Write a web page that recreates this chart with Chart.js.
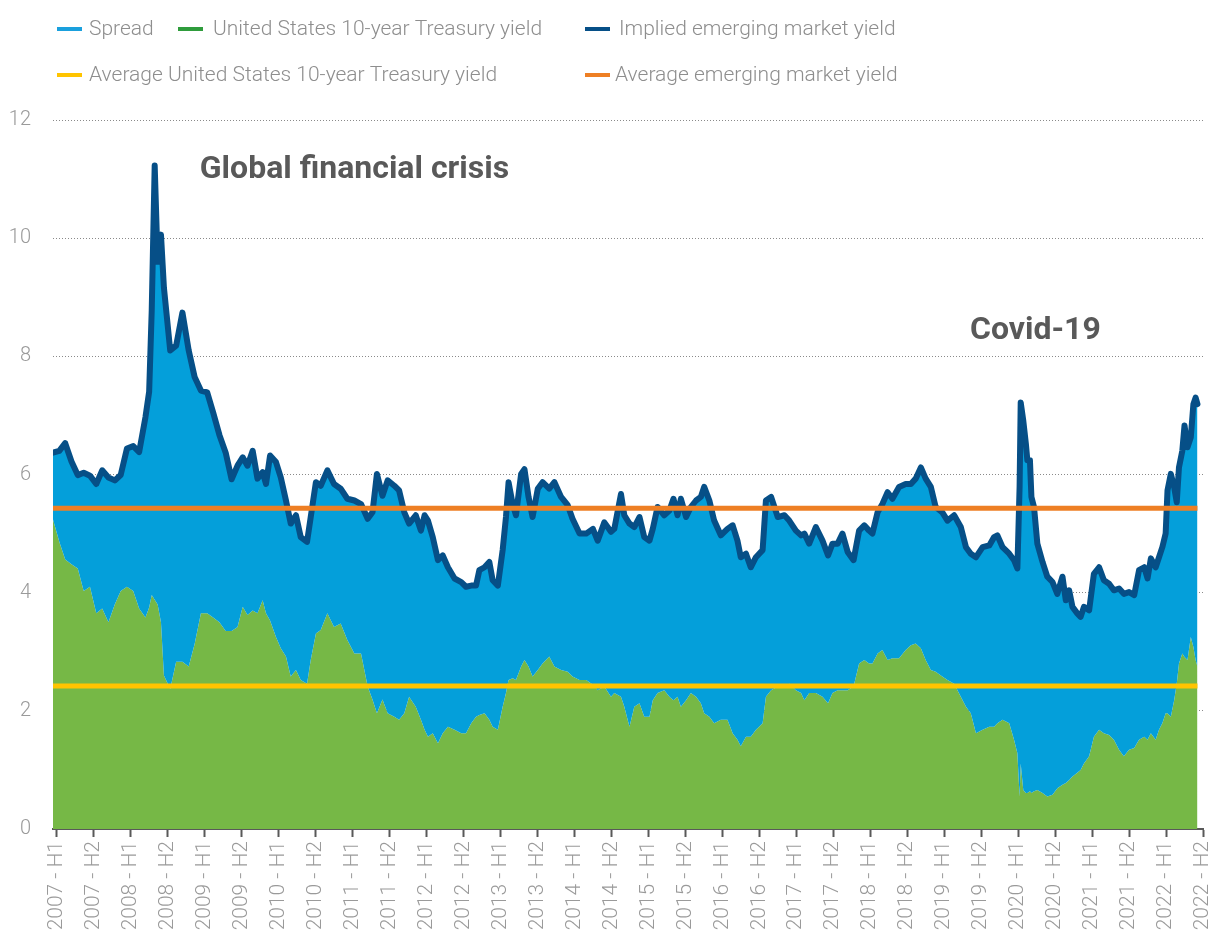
<!DOCTYPE html>
<html>
<head>
<meta charset="utf-8">
<title>Implied emerging market yield</title>
<script src="https://cdn.jsdelivr.net/npm/chart.js@4.4.1/dist/chart.umd.min.js"></script>
<style>
  html, body { margin: 0; padding: 0; background: #fff; }
  #wrap { width: 1211px; height: 938px; position: relative; }
</style>
</head>
<body>
<div id="wrap"><canvas id="chart"></canvas></div>
<script>
// Half-year tick labels
const halfYears = [
  '2007 - H1', '2007 - H2', '2008 - H1', '2008 - H2', '2009 - H1', '2009 - H2',
  '2010 - H1', '2010 - H2', '2011 - H1', '2011 - H2', '2012 - H1', '2012 - H2',
  '2013 - H1', '2013 - H2', '2014 - H1', '2014 - H2', '2015 - H1', '2015 - H2',
  '2016 - H1', '2016 - H2', '2017 - H1', '2017 - H2', '2018 - H1', '2018 - H2',
  '2019 - H1', '2019 - H2', '2020 - H1', '2020 - H2', '2021 - H1', '2021 - H2',
  '2022 - H1', '2022 - H2'
];

// Position of each observation, in half-years from 2007 - H1
const period = [
  -0.1, 0.07, 0.23, 0.4, 0.57, 0.73, 0.9, 1.07, 1.23, 1.4, 1.57, 1.73, 1.9, 2.07, 2.23, 2.4, 2.5, 2.57, 2.65, 2.73, 2.82, 2.9, 3.07, 3.23, 3.4, 3.57, 3.73, 3.9, 4.07, 4.23, 4.4, 4.57, 4.73,
  4.89, 5.03, 5.16, 5.3, 5.43, 5.57, 5.66, 5.77, 5.93, 6.06, 6.2, 6.33, 6.47, 6.6, 6.77, 6.87, 7.01, 7.14, 7.32, 7.5, 7.68, 7.86, 8.05, 8.23, 8.41, 8.54, 8.66, 8.81, 8.95, 9.13, 9.26, 9.4, 9.53, 9.71, 9.85,
  9.95, 10.04, 10.17, 10.31, 10.44, 10.58, 10.76, 10.94, 11.07, 11.21, 11.34, 11.43, 11.57, 11.7, 11.79, 11.93, 12.06, 12.15, 12.22, 12.33, 12.42, 12.56, 12.65, 12.76, 12.87, 13.01, 13.14, 13.32, 13.46, 13.64, 13.82, 13.95, 14.14, 14.32, 14.5, 14.63, 14.81, 14.99,
  15.08, 15.26, 15.35, 15.49, 15.62, 15.76, 15.89, 16.03, 16.12, 16.25, 16.43, 16.57, 16.68, 16.79, 16.88, 17.02, 17.15, 17.29, 17.42, 17.51, 17.65, 17.78, 17.96, 18.14, 18.28, 18.41, 18.5, 18.64, 18.77, 18.91, 19.09, 19.18, 19.32, 19.5, 19.68, 19.81, 19.99, 20.13,
  20.22, 20.35, 20.53, 20.71, 20.86, 20.98, 21.12, 21.25, 21.39, 21.55, 21.7, 21.84, 21.97, 22.06, 22.2, 22.33, 22.47, 22.6, 22.78, 22.96, 23.1, 23.23, 23.37, 23.5, 23.64, 23.77, 23.95, 24.09, 24.27, 24.45, 24.59, 24.72, 24.86, 25.04, 25.22,
  25.35, 25.44, 25.58, 25.76, 25.89, 25.98, 26.04, 26.07, 26.14, 26.21, 26.25, 26.32, 26.36, 26.43, 26.52, 26.66, 26.79, 26.93, 27.06, 27.2, 27.29, 27.38, 27.47, 27.6, 27.69, 27.78, 27.92, 28.05, 28.19, 28.32, 28.46, 28.59, 28.73, 28.86,
  29.0, 29.14, 29.27, 29.41, 29.5, 29.59, 29.72, 29.81, 29.9, 29.99, 30.04, 30.13, 30.22, 30.29, 30.35, 30.44, 30.5, 30.58, 30.67, 30.74, 30.8, 30.85
];

// Implied emerging market yield (top of the spread band)
const impliedYield = [
  6.37, 6.40, 6.53, 6.22, 5.99, 6.03, 5.98, 5.84, 6.07, 5.95, 5.90, 5.99, 6.44, 6.48, 6.38, 6.97, 7.40, 8.78, 11.23, 9.60, 10.06, 9.16, 8.10, 8.18, 8.74, 8.10, 7.65, 7.42, 7.39, 7.05, 6.67, 6.37, 5.92,
  6.15, 6.29, 6.15, 6.40, 5.93, 6.04, 5.84, 6.32, 6.21, 5.95, 5.56, 5.17, 5.31, 4.94, 4.86, 5.28, 5.87, 5.81, 6.07, 5.84, 5.76, 5.59, 5.56, 5.50, 5.25, 5.36, 6.01, 5.64, 5.90, 5.81, 5.73, 5.36, 5.17, 5.31, 5.05,
  5.31, 5.22, 4.94, 4.55, 4.63, 4.43, 4.24, 4.18, 4.10, 4.12, 4.12, 4.38, 4.43, 4.52, 4.21, 4.12, 4.72, 5.28, 5.87, 5.50, 5.31, 6.01, 6.09, 5.62, 5.28, 5.76, 5.87, 5.76, 5.87, 5.62, 5.48, 5.25, 5.00, 5.00, 5.08, 4.88, 5.19, 5.03,
  5.08, 5.67, 5.31, 5.17, 5.11, 5.28, 4.94, 4.88, 5.08, 5.45, 5.31, 5.39, 5.59, 5.31, 5.59, 5.28, 5.45, 5.56, 5.62, 5.79, 5.56, 5.22, 4.97, 5.08, 5.14, 4.88, 4.60, 4.66, 4.43, 4.60, 4.72, 5.56, 5.62, 5.28, 5.31, 5.22, 5.05, 4.97,
  5.00, 4.83, 5.11, 4.88, 4.63, 4.83, 4.83, 5.00, 4.69, 4.55, 5.05, 5.14, 5.05, 5.00, 5.36, 5.50, 5.70, 5.59, 5.79, 5.84, 5.84, 5.93, 6.12, 5.93, 5.79, 5.45, 5.36, 5.22, 5.31, 5.11, 4.77, 4.66, 4.60, 4.77, 4.80,
  4.94, 4.97, 4.77, 4.66, 4.55, 4.41, 5.79, 7.22, 6.91, 6.52, 6.24, 6.24, 5.62, 5.45, 4.83, 4.52, 4.27, 4.18, 3.98, 4.27, 3.87, 4.04, 3.76, 3.65, 3.59, 3.76, 3.70, 4.32, 4.43, 4.21, 4.15, 4.04, 4.07, 3.98,
  4.01, 3.96, 4.38, 4.43, 4.24, 4.58, 4.43, 4.60, 4.77, 5.00, 5.73, 6.01, 5.79, 5.53, 6.12, 6.40, 6.83, 6.46, 6.63, 7.19, 7.30, 7.19
];

// United States 10-year Treasury yield
const treasuryYield = [
  5.24, 4.86, 4.56, 4.48, 4.41, 4.03, 4.10, 3.65, 3.73, 3.50, 3.80, 4.03, 4.10, 4.03, 3.73, 3.58, 3.75, 3.96, 3.88, 3.80, 3.50, 2.60, 2.37, 2.83, 2.83, 2.75, 3.13, 3.65, 3.65, 3.58, 3.50, 3.35, 3.35,
  3.42, 3.76, 3.62, 3.70, 3.65, 3.87, 3.65, 3.53, 3.25, 3.06, 2.92, 2.58, 2.69, 2.52, 2.46, 2.86, 3.31, 3.37, 3.65, 3.42, 3.48, 3.20, 2.97, 2.97, 2.41, 2.19, 1.96, 2.19, 1.96, 1.90, 1.85, 1.96, 2.24, 2.07, 1.85,
  1.68, 1.56, 1.62, 1.45, 1.62, 1.73, 1.68, 1.62, 1.62, 1.79, 1.90, 1.93, 1.96, 1.85, 1.73, 1.68, 2.07, 2.30, 2.52, 2.55, 2.52, 2.75, 2.86, 2.75, 2.58, 2.69, 2.80, 2.92, 2.75, 2.69, 2.66, 2.58, 2.52, 2.52, 2.44, 2.35, 2.41, 2.24,
  2.30, 2.24, 2.07, 1.73, 2.07, 2.13, 1.90, 1.90, 2.18, 2.30, 2.35, 2.24, 2.18, 2.24, 2.07, 2.18, 2.30, 2.24, 2.13, 1.96, 1.90, 1.79, 1.85, 1.85, 1.62, 1.51, 1.40, 1.56, 1.56, 1.68, 1.79, 2.24, 2.35, 2.41, 2.41, 2.46, 2.35, 2.30,
  2.18, 2.30, 2.30, 2.24, 2.13, 2.30, 2.35, 2.35, 2.35, 2.41, 2.80, 2.86, 2.80, 2.80, 2.97, 3.03, 2.86, 2.89, 2.89, 3.03, 3.11, 3.14, 3.06, 2.86, 2.69, 2.66, 2.58, 2.52, 2.46, 2.24, 2.07, 1.96, 1.62, 1.68, 1.73,
  1.73, 1.79, 1.85, 1.79, 1.51, 1.28, 0.55, 1.11, 0.66, 0.61, 0.61, 0.64, 0.61, 0.64, 0.66, 0.61, 0.55, 0.58, 0.69, 0.75, 0.78, 0.83, 0.89, 0.95, 1.00, 1.11, 1.23, 1.56, 1.68, 1.62, 1.59, 1.51, 1.34, 1.23,
  1.34, 1.37, 1.51, 1.56, 1.51, 1.62, 1.51, 1.68, 1.79, 1.96, 1.96, 1.90, 2.18, 2.46, 2.80, 2.97, 2.91, 2.86, 3.25, 3.08, 2.86, 2.75
];

// Period averages
const avgImpliedYield = 5.43;
const avgTreasuryYield = 2.42;

// Text notes on the plot: [label, x (half-years), y (yield)]
const notes = [
  ['Global financial crisis', 3.87, 11.15],
  ['Covid-19', 24.7, 8.43]
];

const toPoints = values => values.map((v, i) => ({ x: period[i], y: v }));
const firstX = period[0];
const lastX = period[period.length - 1];

const FONT = "Roboto, 'Open Sans', sans-serif";

// Legend laid out in two rows with a fixed second column, drawn on the canvas
const gridLegend = {
  id: 'gridLegend',
  afterDraw(chart, args, opts) {
    const ctx = chart.ctx;
    ctx.save();
    ctx.font = `300 21px ${FONT}`;
    ctx.textBaseline = 'middle';
    ctx.lineCap = 'butt';
    opts.items.forEach(item => {
      const ds = chart.data.datasets.find(d => d.label === item.label);
      ctx.strokeStyle = ds.legendColor || ds.borderColor;
      ctx.lineWidth = 4;
      ctx.beginPath();
      ctx.moveTo(item.x, item.y);
      ctx.lineTo(item.x + 25, item.y);
      ctx.stroke();
      ctx.fillStyle = '#8e8e8e';
      ctx.fillText(item.label, item.x + item.gap, item.y + 1);
    });
    ctx.restore();
  }
};

// Bold annotations placed in data coordinates
const notesPlugin = {
  id: 'notes',
  afterDatasetsDraw(chart) {
    const { ctx, scales: { x, y } } = chart;
    ctx.save();
    ctx.font = `bold 32px ${FONT}`;
    ctx.fillStyle = '#595959';
    ctx.textBaseline = 'middle';
    notes.forEach(([text, nx, ny]) => {
      ctx.fillText(text, x.getPixelForValue(nx), y.getPixelForValue(ny));
    });
    ctx.restore();
  }
};

// Drawn top-first: the first dataset ends up on top
const datasets = [
  {
    label: 'Average emerging market yield',
    data: [{ x: firstX, y: avgImpliedYield }, { x: lastX, y: avgImpliedYield }],
    borderColor: '#ee7f24',
    borderWidth: 5,
    pointRadius: 0,
    fill: false
  },
  {
    label: 'Average United States 10-year Treasury yield',
    data: [{ x: firstX, y: avgTreasuryYield }, { x: lastX, y: avgTreasuryYield }],
    borderColor: '#ffc400',
    borderWidth: 5,
    pointRadius: 0,
    fill: false
  },
  {
    label: 'Implied emerging market yield',
    data: toPoints(impliedYield),
    borderColor: '#064f87',
    borderWidth: 6,
    borderJoinStyle: 'round',
    borderCapStyle: 'round',
    pointRadius: 0,
    tension: 0,
    fill: false
  },
  {
    label: 'Spread',
    data: toPoints(impliedYield),
    borderColor: 'rgba(0,0,0,0)',
    legendColor: '#1aa0dd',
    borderWidth: 0,
    backgroundColor: '#049fda',
    pointRadius: 0,
    tension: 0,
    fill: '+1'
  },
  {
    label: 'United States 10-year Treasury yield',
    data: toPoints(treasuryYield),
    borderColor: 'rgba(0,0,0,0)',
    legendColor: '#2f9c3c',
    borderWidth: 0,
    backgroundColor: '#76b846',
    pointRadius: 0,
    tension: 0,
    fill: 'origin'
  }
];

new Chart(document.getElementById('chart'), {
  type: 'line',
  data: { datasets },
  plugins: [gridLegend, notesPlugin],
  options: {
    responsive: true,
    maintainAspectRatio: false,
    animation: false,
    layout: { padding: { top: 120, right: 8, bottom: 0, left: 0 } },
    scales: {
      x: {
        type: 'linear',
        min: -0.1,
        max: 31,
        border: { display: true, color: '#595959', width: 2 },
        grid: {
          drawOnChartArea: false,
          drawTicks: true,
          tickLength: 8,
          tickColor: '#595959',
          tickWidth: 2
        },
        ticks: {
          stepSize: 1,
          includeBounds: false,
          autoSkip: false,
          maxRotation: 90,
          minRotation: 90,
          padding: 4,
          color: '#9a9a9a',
          font: { family: FONT, size: 21, weight: 300 },
          callback: v => (Number.isInteger(v) ? halfYears[v] : '')
        },
        afterFit: scale => {
          scale.height = 109;
          scale.paddingLeft = 0;
          scale.paddingRight = 0;
        }
      },
      y: {
        min: 0,
        max: 12,
        border: { display: false, dash: [1, 2] },
        grid: {
          drawTicks: false,
          color: ctx => (ctx.tick && ctx.tick.value === 0 ? 'rgba(0,0,0,0)' : '#8a8a8a'),
          lineWidth: 1
        },
        ticks: {
          stepSize: 2,
          padding: 22,
          color: '#9a9a9a',
          font: { family: FONT, size: 20, weight: 300 }
        },
        afterFit: scale => {
          scale.width = 53;
          scale.paddingTop = 0;
          scale.paddingBottom = 0;
        }
      }
    },
    plugins: {
      legend: { display: false },
      tooltip: { enabled: false },
      gridLegend: {
        items: [
          { label: 'Spread', x: 57, y: 29, gap: 32 },
          { label: 'United States 10-year Treasury yield', x: 178, y: 29, gap: 35 },
          { label: 'Implied emerging market yield', x: 585, y: 29, gap: 34 },
          { label: 'Average United States 10-year Treasury yield', x: 57, y: 75, gap: 32 },
          { label: 'Average emerging market yield', x: 585, y: 75, gap: 30 }
        ]
      }
    }
  }
});
</script>
</body>
</html>
